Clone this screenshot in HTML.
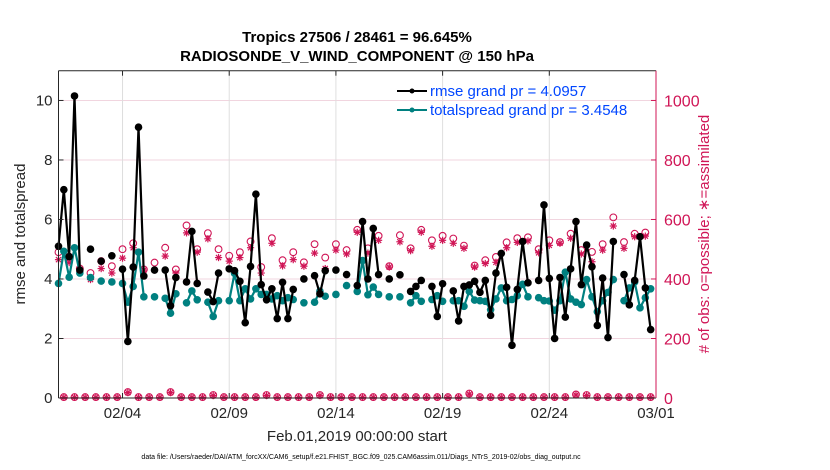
<!DOCTYPE html>
<html><head><meta charset="utf-8"><style>
html,body{margin:0;padding:0;background:#fff;}
svg{display:block;font-family:"Liberation Sans",Arial,sans-serif;}
</style></head><body>
<svg id="chart" width="830" height="470" viewBox="0 0 830 470" xmlns="http://www.w3.org/2000/svg">
<rect width="830" height="470" fill="#fff"/>
<text x="357" y="42" text-anchor="middle" font-size="15" font-weight="bold" fill="#000">Tropics 27506 / 28461 = 96.645%</text>
<text x="357" y="61" text-anchor="middle" font-size="15" font-weight="bold" fill="#000">RADIOSONDE_V_WIND_COMPONENT @ 150 hPa</text>
<g id="grid"></g>
<g id="marks"></g>
<g id="axes"></g>
<g>
 <g>
  <line x1="397" y1="91" x2="427" y2="91" stroke="#000" stroke-width="2"/>
  <circle cx="412" cy="91" r="2.5" fill="#000"/>
  <text x="430" y="96" font-size="15" fill="#0046ff">rmse grand pr = 4.0957</text>
 </g>
 <g>
  <line x1="397" y1="110" x2="427" y2="110" stroke="#008080" stroke-width="2"/>
  <circle cx="412" cy="110" r="2.5" fill="#008080"/>
  <text x="430" y="115" font-size="15" fill="#0046ff">totalspread grand pr = 3.4548</text>
 </g>
</g>
<text transform="translate(25,234) rotate(-90)" text-anchor="middle" font-size="15" fill="#262626">rmse and totalspread</text>
<text transform="translate(709,234) rotate(-90)" text-anchor="middle" font-size="15" fill="#d01556"># of obs: o=possible; ∗=assimilated</text>
<text x="357" y="441" text-anchor="middle" font-size="15" fill="#262626">Feb.01,2019 00:00:00 start</text>
<text x="361" y="459" text-anchor="middle" font-size="7" fill="#000">data file: /Users/raeder/DAI/ATM_forcXX/CAM6_setup/f.e21.FHIST_BGC.f09_025.CAM6assim.011/Diags_NTrS_2019-02/obs_diag_output.nc</text>
</svg>
<script>
const rmse=[5.1,7.0,4.75,10.15,4.3,null,5.0,null,4.6,null,4.78,null,4.33,1.9,4.4,9.1,4.1,null,4.3,null,4.3,3.1,4.05,null,3.9,5.6,3.85,null,3.56,3.24,4.2,null,4.34,4.28,3.92,2.53,4.42,6.85,3.81,3.3,3.67,2.67,3.89,2.67,3.65,null,4.0,null,4.11,3.5,4.28,null,4.3,null,4.15,null,3.78,5.93,4.0,5.7,4.15,null,4.0,null,4.14,null,3.58,3.75,3.95,null,3.75,2.74,3.84,null,3.6,2.59,3.75,3.8,3.92,3.55,3.95,2.78,4.2,4.86,3.72,1.77,3.65,5.26,3.87,null,3.95,6.49,4.02,2.0,4.05,2.72,4.34,5.93,3.81,5.14,4.41,2.44,4.03,2.03,5.26,null,4.15,3.13,3.95,5.42,3.7,2.3];
const spread=[3.85,4.93,4.06,5.05,4.2,null,4.05,null,3.93,null,3.9,null,3.85,3.22,3.75,4.9,3.4,null,3.4,null,3.35,2.85,3.5,null,3.2,3.6,3.3,null,3.22,2.74,3.27,null,3.27,4.19,3.27,3.67,3.33,3.67,3.48,3.48,3.33,3.44,3.27,3.37,3.31,null,3.2,null,3.22,3.59,3.42,null,3.48,null,3.78,null,3.58,4.62,3.47,3.73,3.48,null,3.4,null,3.4,null,3.2,3.44,3.25,null,3.31,3.44,3.25,null,3.27,3.27,3.08,3.58,3.29,3.27,3.25,2.97,3.33,3.7,3.27,3.31,3.44,3.82,3.4,null,3.37,3.27,3.26,2.95,3.27,4.23,3.33,3.22,3.14,3.98,3.4,2.9,3.27,3.55,3.98,null,3.27,3.7,3.9,3.03,3.37,3.67];
const possEven=[490,475,435,420,460,443,500,520,432,455,505,432,580,500,554,500,478,490,526,440,537,463,490,456,517,472,517,497,565,503,545,443,547,503,565,530,545,536,512,445,463,474,523,537,540,500,530,524,552,497,491,517,607,524,552,556];
const assimEven=[465,455,425,398,435,420,470,505,430,430,477,420,555,490,535,472,460,472,505,420,520,444,465,443,487,435,497,484,557,487,530,440,525,495,557,510,530,520,503,440,452,456,505,523,528,488,513,520,537,484,458,497,578,503,542,544];
const possOdd=[3,3,3,3,3,3,20,3,3,3,20,3,3,3,10,3,3,3,3,10,3,3,3,3,10,3,3,3,3,3,3,3,3,3,3,3,3,3,15,3,3,3,3,3,3,3,3,3,12,10,3,3,3,3,3,3];
const assimOdd=[2,2,2,2,2,2,18,2,2,2,18,2,2,2,8,2,2,2,2,8,2,2,2,2,8,2,2,2,2,2,2,2,2,2,2,2,2,2,13,2,2,2,2,2,2,2,2,2,10,8,2,2,2,2,2,2];
const leftTicks=[0,2,4,6,8,10];
const rightTicks=[0,200,400,600,800,1000];
const dateTicks=[3,8,13,18,23,28];
const dateLabels=["02/04","02/09","02/14","02/19","02/24","03/01"];
const STEP=0.25;

const NS="http://www.w3.org/2000/svg";
const X0=58.5,X1=656,Y0=398,Y1=70.7,YMAX=11,DAYS=28;
const xs=t=>X0+(X1-X0)*t/DAYS;
const ys=v=>Y0-(Y0-Y1)*v/YMAX;
const yr=v=>ys(v/100);
const RED="#d01556";
function mk(tag,attrs,parent){const e=document.createElementNS(NS,tag);for(const k in attrs)e.setAttribute(k,attrs[k]);parent.appendChild(e);return e;}
const grid=document.getElementById('grid'),marks=document.getElementById('marks'),axes=document.getElementById('axes');

leftTicks.forEach((v,i)=>{
 if(v>0){const g=mk('line',{x1:X0,x2:X1,y1:ys(v),y2:ys(v),stroke:"#f1d5df","stroke-width":1},grid);
 
 }
 mk('line',{x1:X0,x2:X0+5,y1:ys(v),y2:ys(v),stroke:"#262626"},axes);
 const t=mk('text',{x:X0-6,y:ys(v)+5,"text-anchor":"end","font-size":15,fill:"#262626"},axes);t.textContent=v;
 
 
});
rightTicks.forEach(v=>{
 mk('line',{x1:X1-5,x2:X1,y1:yr(v),y2:yr(v),stroke:RED},axes);
 const t=mk('text',{x:X1+8,y:yr(v)+6,"font-size":16,fill:RED},axes);t.textContent=v;
 
 
});
dateTicks.forEach((d,i)=>{
 const g=mk('line',{x1:xs(d),x2:xs(d),y1:Y1,y2:Y0,stroke:"#dedede"},grid);
 
 
 mk('line',{x1:xs(d),x2:xs(d),y1:Y0,y2:Y0-5,stroke:"#262626"},axes);
 mk('line',{x1:xs(d),x2:xs(d),y1:Y1,y2:Y1+5,stroke:"#262626"},axes);
 const t=mk('text',{x:xs(d),y:Y0+20,"text-anchor":"middle","font-size":15,fill:"#262626"},axes);t.textContent=dateLabels[i];
 
 
});
mk('line',{x1:X0,x2:X1,y1:Y1,y2:Y1,stroke:"#262626"},axes);
mk('line',{x1:X0,x2:X1,y1:Y0,y2:Y0,stroke:"#262626"},axes);
mk('line',{x1:X0,x2:X0,y1:Y1,y2:Y0,stroke:"#262626"},axes);
mk('line',{x1:X1,x2:X1,y1:Y1,y2:Y0,stroke:RED},axes);

function asterisk(cx,cy,parent){
 const g=mk('g',{stroke:RED,"stroke-width":1.2},parent);
 const r=3.6;
 mk('line',{x1:cx-r,x2:cx+r,y1:cy,y2:cy},g);
 mk('line',{x1:cx,x2:cx,y1:cy-r,y2:cy+r},g);
 mk('line',{x1:cx-2.6,x2:cx+2.6,y1:cy-2.6,y2:cy+2.6},g);
 mk('line',{x1:cx-2.6,x2:cx+2.6,y1:cy+2.6,y2:cy-2.6},g);
 return g;
}
function obs(slot,p,a){
 const c=mk('circle',{cx:xs(slot*STEP),cy:yr(p),r:3.4,fill:"none",stroke:RED,"stroke-width":1.1},marks);
 
 
 const s=asterisk(xs(slot*STEP),yr(a),marks);
 
 
}
possEven.forEach((p,i)=>obs(2*i,p,assimEven[i]));
possOdd.forEach((p,i)=>obs(2*i+1,p,assimOdd[i]));

function series(arr,color,name){
 let d="";let prev=null;
 arr.forEach((v,i)=>{
  if(v==null){prev=null;return;}
  d+=(prev==null?"M":"L")+xs(i*STEP).toFixed(2)+" "+ys(v).toFixed(2)+" ";prev=v;
 });
 const p=mk('path',{d:d,fill:"none",stroke:color,"stroke-width":2.2,"stroke-linejoin":"round"},marks);
 
 
 arr.forEach((v,i)=>{
  if(v==null)return;
  const c=mk('circle',{cx:xs(i*STEP),cy:ys(v),r:3.8,fill:color},marks);
  
  
 });
}
series(spread,"#008080","totalspread");
series(rmse,"#000000","rmse");
</script>
</body></html>
